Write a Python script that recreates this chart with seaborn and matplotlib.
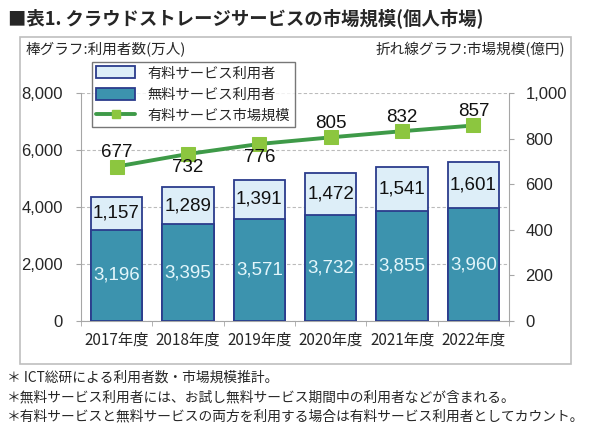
import numpy as np
import pandas as pd
import seaborn as sns
import matplotlib.pyplot as plt
from matplotlib.patches import Patch, Rectangle
from matplotlib.lines import Line2D

years = ["2017年度", "2018年度", "2019年度", "2020年度", "2021年度", "2022年度"]
free_users = [3196, 3395, 3571, 3732, 3855, 3960]
paid_users = [1157, 1289, 1391, 1472, 1541, 1601]
market_size = [677, 732, 776, 805, 832, 857]
label_above = [True, False, False, True, True, True]

sns.set_style("white")
plt.rcParams['font.family'] = ['Noto Sans CJK JP', 'DejaVu Sans']
num_font = "Liberation Sans"

teal = "#3C93AE"
light = "#DDEEF8"
edge = "#2B3C8C"
green = "#3E9A48"
lime = "#8CC63F"
grey = "#A6A6A6"

df = pd.DataFrame({"year": years, "free": free_users, "paid": paid_users})
df["total"] = df["free"] + df["paid"]

fig = plt.figure(figsize=(5.9, 4.28), dpi=100)
ax = fig.add_axes([0.137, 0.25, 0.726, 0.533])

sns.barplot(data=df, x="year", y="total", color=light, edgecolor=edge, linewidth=1.3,
            width=0.72, saturation=1, ax=ax, zorder=3)
sns.barplot(data=df, x="year", y="free", color=teal, edgecolor=edge, linewidth=1.3,
            width=0.72, saturation=1, ax=ax, zorder=3)

for i, (f, p) in enumerate(zip(free_users, paid_users)):
    ax.text(i, f / 2, f"{f:,}", ha="center", va="center", color="#E3F6FB",
            fontsize=13.5, family=num_font, zorder=5)
    ax.text(i, f + p / 2, f"{p:,}", ha="center", va="center", color="#111111",
            fontsize=13.5, family=num_font, zorder=5)

ax.set_ylim(0, 8000)
ax.set_xlim(-0.5, 5.5)
ax.set_yticks([0, 2000, 4000, 6000, 8000])
ax.set_yticklabels([f"{v:,}" for v in [0, 2000, 4000, 6000, 8000]], family=num_font)
ax.set_xticks(np.arange(-0.5, 6, 1.0), minor=True)
ax.yaxis.grid(True, linestyle=(0, (3, 2)), color="#BBBBBB", linewidth=0.8, zorder=0)
ax.set_axisbelow(True)
ax.set_xlabel("")
ax.set_ylabel("")
ax.tick_params(axis="y", labelsize=12, length=3.6, color=grey, pad=9.4, left=True)
ax.tick_params(axis="x", which="major", labelsize=11, length=0, pad=8)
ax.tick_params(axis="x", which="minor", length=3.6, color=grey, bottom=True)
for s in ["left", "bottom"]:
    ax.spines[s].set_color(grey)
ax.spines["top"].set_visible(False)
ax.spines["right"].set_visible(False)

ax2 = ax.twinx()
sns.lineplot(x=np.arange(len(years)), y=market_size, ax=ax2, color=green, linewidth=2.8,
             marker="s", markersize=10, markerfacecolor=lime, markeredgecolor=lime, zorder=6)
ax2.set_ylim(0, 1000)
ax2.set_yticks([0, 200, 400, 600, 800, 1000])
ax2.set_yticklabels([f"{v:,}" for v in [0, 200, 400, 600, 800, 1000]], family=num_font)
ax2.tick_params(axis="y", labelsize=12, length=3.6, color=grey, pad=8, right=True)
ax2.spines["right"].set_color(grey)
for s in ["left", "bottom", "top"]:
    ax2.spines[s].set_visible(False)

for i, (v, up) in enumerate(zip(market_size, label_above)):
    off = 62 if up else -58
    ax2.text(i, v + off, f"{v}", ha="center", va="center", fontsize=13.5,
             family=num_font, color="#111111", zorder=7)

handles = [
    Patch(facecolor=light, edgecolor=edge, linewidth=1.3, label="有料サービス利用者"),
    Patch(facecolor=teal, edgecolor=edge, linewidth=1.3, label="無料サービス利用者"),
    Line2D([0], [0], color=green, linewidth=2.8, marker="s", markersize=6,
           markerfacecolor=lime, markeredgecolor=lime, label="有料サービス市場規模"),
]
leg = fig.legend(handles=handles, loc="upper left", bbox_to_anchor=(0.156, 0.855),
                 fontsize=10.3, frameon=True, fancybox=False, edgecolor="#555555",
                 handlelength=2.7, handleheight=0.9, borderpad=0.3, labelspacing=0.5,
                 handletextpad=0.9, borderaxespad=0)
leg.get_frame().set_linewidth(1.0)

fig.patches.append(Rectangle((0.034, 0.15), 0.934, 0.763, transform=fig.transFigure,
                             fill=False, edgecolor="#BFBFBF", linewidth=1.2))

fig.text(0.014, 0.957, "■表1. クラウドストレージサービスの市場規模(個人市場)",
         fontsize=13.2, fontweight="bold", va="center", ha="left")
fig.text(0.044, 0.885, "棒グラフ:利用者数(万人)", fontsize=10.5, va="center", ha="left")
fig.text(0.958, 0.885, "折れ線グラフ:市場規模(億円)", fontsize=10.5, va="center", ha="right")

notes = [
    "＊ ICT総研による利用者数・市場規模推計。",
    "＊無料サービス利用者には、お試し無料サービス期間中の利用者などが含まれる。",
    "＊有料サービスと無料サービスの両方を利用する場合は有料サービス利用者としてカウント。",
]
for k, n in enumerate(notes):
    fig.text(0.012, 0.117 - k * 0.045, n, fontsize=9.9, va="center", ha="left")

fig.savefig("out.png", dpi=100)
